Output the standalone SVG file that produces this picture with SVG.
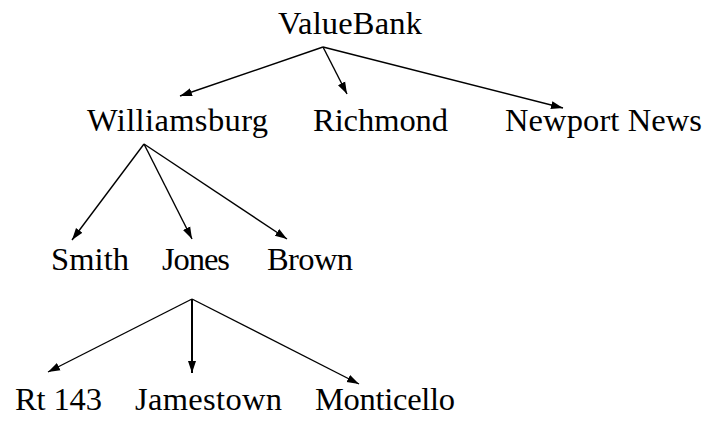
<svg xmlns="http://www.w3.org/2000/svg" width="708" height="421" viewBox="0 0 708 421">
  <style>
    .lbl { font-family: "Liberation Serif", "DejaVu Serif", serif; font-size: 32.5px; fill: #000; }
    .edge { stroke: #000; stroke-width: 1.4; fill: none; marker-end: url(#head); }
  </style>
  <defs>
    <marker id="head" markerUnits="userSpaceOnUse" markerWidth="12" markerHeight="10" viewBox="0 0 12 10" refX="12" refY="5" orient="auto">
      <path d="M0,1 L12,5 L0,9 Z" fill="#000"/>
    </marker>
  </defs>
  <rect width="708" height="421" fill="#fff"/>

  <!-- tree edges -->
  <g id="connectors">
    <line class="edge" x1="323" y1="47" x2="180" y2="96"/>
    <line class="edge" x1="323" y1="47" x2="347" y2="94"/>
    <line class="edge" x1="323" y1="47" x2="563" y2="108"/>
    <line class="edge" x1="144" y1="144" x2="72" y2="240"/>
    <line class="edge" x1="144" y1="144" x2="192" y2="239"/>
    <line class="edge" x1="144" y1="144" x2="287" y2="239"/>
    <line class="edge" x1="192" y1="299" x2="48" y2="372"/>
    <line class="edge" x1="192" y1="299" x2="192" y2="373" style="stroke-width:2"/>
    <line class="edge" x1="192" y1="299" x2="359" y2="384"/>
  </g>

  <g id="valuebank"><text class="lbl" x="278" y="34" textLength="144">ValueBank</text></g>
  <g id="williamsburg"><text class="lbl" x="87" y="131" textLength="181">Williamsburg</text></g>
  <g id="richmond"><text class="lbl" x="313" y="131" textLength="135">Richmond</text></g>
  <g id="newport-news"><text class="lbl" x="505" y="131" textLength="197">Newport News</text></g>
  <g id="smith"><text class="lbl" x="51" y="270" textLength="78">Smith</text></g>
  <g id="jones"><text class="lbl" x="162" y="270" textLength="68">Jones</text></g>
  <g id="brown"><text class="lbl" x="267" y="270" textLength="86">Brown</text></g>
  <g id="rt-143"><text class="lbl" x="15" y="410" textLength="87">Rt 143</text></g>
  <g id="jamestown"><text class="lbl" x="135" y="410" textLength="147">Jamestown</text></g>
  <g id="monticello"><text class="lbl" x="315" y="410" textLength="140">Monticello</text></g>
</svg>
